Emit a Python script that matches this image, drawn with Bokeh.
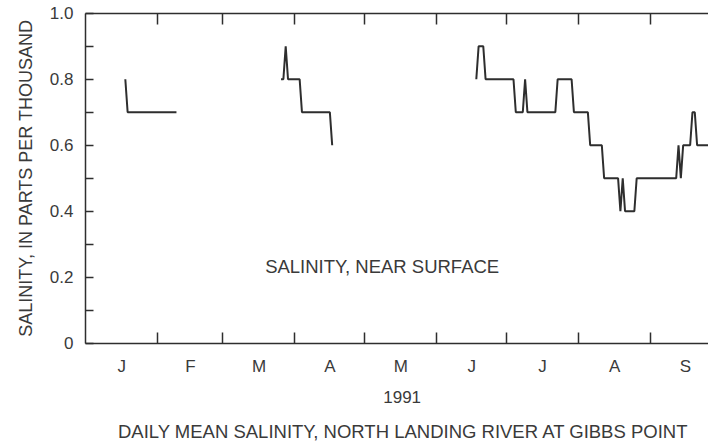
import math
import pandas as pd
from bokeh.plotting import figure
from bokeh.models import Range1d, LinearAxis, FixedTicker, Label
from bokeh.embed import file_html
from bokeh.resources import INLINE

# ---------------- data ----------------
YEAR_START = "1991-01-01"
month_starts = ["1991-01-01", "1991-02-01", "1991-03-01", "1991-04-01", "1991-05-01",
                "1991-06-01", "1991-07-01", "1991-08-01", "1991-09-01", "1991-10-01"]
month_labels = ["J", "F", "M", "A", "M", "J", "J", "A", "S"]

y_ticks = [0, 0.2, 0.4, 0.6, 0.8, 1.0]
y_tick_labels = ["0", "0.2", "0.4", "0.6", "0.8", "1.0"]
y_minor = [0.1, 0.3, 0.5, 0.7, 0.9]

# daily mean salinity (ppt), three records with gaps
seg1_start = "1991-01-18"
seg1_values = [0.8, 0.7, 0.7, 0.7, 0.7, 0.7, 0.7, 0.7, 0.7, 0.7, 0.7, 0.7,
               0.7, 0.7, 0.7, 0.7, 0.7, 0.7, 0.7, 0.7, 0.7, 0.7, 0.7]

seg2_start = "1991-03-26"
seg2_values = [0.8, 0.8, 0.9, 0.8, 0.8, 0.8, 0.8, 0.8, 0.8,
               0.7, 0.7, 0.7, 0.7, 0.7, 0.7, 0.7, 0.7, 0.7, 0.7, 0.7, 0.7, 0.7,
               0.6]

seg3_start = "1991-06-18"
seg3_values = [0.8, 0.9, 0.9, 0.9,
               0.8, 0.8, 0.8, 0.8, 0.8, 0.8, 0.8, 0.8, 0.8, 0.8, 0.8, 0.8, 0.8,
               0.7, 0.7, 0.7, 0.7, 0.8,
               0.7, 0.7, 0.7, 0.7, 0.7, 0.7, 0.7, 0.7, 0.7, 0.7, 0.7, 0.7, 0.7,
               0.8, 0.8, 0.8, 0.8, 0.8, 0.8, 0.8,
               0.7, 0.7, 0.7, 0.7, 0.7, 0.7, 0.7,
               0.6, 0.6, 0.6, 0.6, 0.6, 0.6,
               0.5, 0.5, 0.5, 0.5, 0.5, 0.5, 0.5,
               0.4, 0.5, 0.4, 0.4, 0.4, 0.4, 0.4,
               0.5, 0.5, 0.5, 0.5, 0.5, 0.5, 0.5, 0.5, 0.5, 0.5, 0.5, 0.5, 0.5,
               0.5, 0.5, 0.5, 0.5, 0.5,
               0.6, 0.5, 0.6, 0.6, 0.6, 0.6, 0.7, 0.7,
               0.6, 0.6, 0.6, 0.6, 0.6, 0.6]

annotation_text = "SALINITY, NEAR SURFACE"
year_text = "1991"
bottom_title = "DAILY MEAN SALINITY, NORTH LANDING RIVER AT GIBBS POINT"
y_title = "SALINITY, IN PARTS PER THOUSAND"

# ---------------- helpers ----------------
t0 = pd.Timestamp(YEAR_START)


def day_offsets(start, n):
    return [(d - t0).days for d in pd.date_range(start, periods=n, freq="D")]


ms = [(pd.Timestamp(d) - t0).days for d in month_starts]
boundaries = ms[1:-1]
centers = [(a + b) / 2 for a, b in zip(ms[:-1], ms[1:])]

FONT = "Liberation Sans"
TXT = "#3a3a3a"
INK = "#2e2e2e"

# visible axis extent (days since 1 Jan, salinity)
X0, X1 = -0.13, 267.9
Y0, Y1 = 0.0, 1.0

# the frame covers the whole picture; axes are pinned at their data locations
p = figure(width=708, height=443,
           x_range=Range1d(-36.7, 267.9), y_range=Range1d(-0.3039, 1.0385),
           x_axis_type=None, y_axis_type=None,
           output_backend="svg", toolbar_location=None,
           min_border_left=0, min_border_right=0,
           min_border_top=0, min_border_bottom=0,
           background_fill_color="white", border_fill_color="white")
p.outline_line_color = None


def style_line(ax):
    ax.axis_line_color = INK
    ax.axis_line_width = 1.5


# bottom axis: month boundary ticks, month-centre letters
xa = LinearAxis(ticker=FixedTicker(ticks=centers, minor_ticks=boundaries),
                major_label_overrides={c: m for c, m in zip(centers, month_labels)},
                fixed_location=Y0, bounds=(X0, X1))
style_line(xa)
xa.major_tick_line_color = None
xa.major_tick_in = 0
xa.major_tick_out = 0
xa.minor_tick_in = 11
xa.minor_tick_out = 0
xa.minor_tick_line_color = INK
xa.minor_tick_line_width = 1.5
xa.major_label_standoff = 14
xa.major_label_text_font = FONT
xa.major_label_text_font_size = "17px"
xa.major_label_text_color = TXT
p.add_layout(xa, "below")

# top axis: only the line and inward month ticks
ta = LinearAxis(ticker=FixedTicker(ticks=[], minor_ticks=boundaries),
                fixed_location=Y1, bounds=(X0, X1))
style_line(ta)
ta.major_tick_in = 0
ta.major_tick_out = 0
ta.minor_tick_in = 11
ta.minor_tick_out = 0
ta.minor_tick_line_color = INK
ta.minor_tick_line_width = 1.5
ta.major_label_standoff = 0
ta.major_label_text_font_size = "0px"
p.add_layout(ta, "above")

# left axis
ya = LinearAxis(ticker=FixedTicker(ticks=y_ticks, minor_ticks=y_minor),
                major_label_overrides=dict(zip(y_ticks, y_tick_labels)),
                fixed_location=X0, bounds=(Y0, Y1))
style_line(ya)
ya.major_tick_in = 8
ya.major_tick_out = 0
ya.minor_tick_in = 8
ya.minor_tick_out = 0
ya.major_tick_line_color = INK
ya.minor_tick_line_color = INK
ya.major_tick_line_width = 1.5
ya.minor_tick_line_width = 1.5
ya.major_label_standoff = 12
ya.major_label_text_font = FONT
ya.major_label_text_font_size = "17px"
ya.major_label_text_color = TXT
p.add_layout(ya, "left")

# salinity records
for start, vals in [(seg1_start, seg1_values), (seg2_start, seg2_values), (seg3_start, seg3_values)]:
    p.line(day_offsets(start, len(vals)), vals, line_color=INK, line_width=2)

# texts
def add_text(x, y, text, size, angle=0.0):
    p.add_layout(Label(x=x, y=y, text=text, angle=angle, text_align="center",
                       text_baseline="middle", text_font=FONT, text_font_size=size,
                       text_color=TXT))


add_text(-25.6, 0.5, y_title, "18px", angle=math.pi / 2)
add_text(127.5, 0.2315, annotation_text, "18.5px")
add_text(136.1, -0.1636, year_text, "17px")
add_text(136.7, -0.2667, bottom_title, "18.5px")

open("out.html", "w").write(file_html(p, INLINE))
